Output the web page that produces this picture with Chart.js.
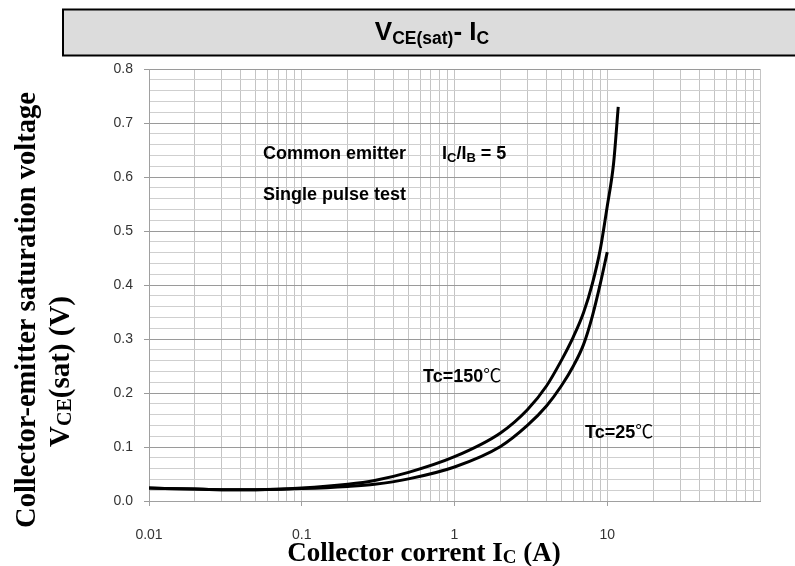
<!DOCTYPE html>
<html>
<head>
<meta charset="utf-8">
<script src="https://cdn.jsdelivr.net/npm/chart.js@4.4.0/dist/chart.umd.min.js"></script>
<style>
  html, body { margin: 0; padding: 0; background: #fff; }
  #wrap { position: relative; width: 795px; height: 566px; }
</style>
</head>
<body>
<div id="wrap"><canvas id="vceChart" width="795" height="566"></canvas></div>
<script>
// collector current (A) vs V_CE(sat) (V)
const currentTc150 = [0.01, 0.02, 0.03, 0.05, 0.1, 0.2, 0.3, 0.5, 1, 2, 3, 4, 5, 6, 7, 8, 9, 10, 11, 11.8];
const vceTc150     = [0.024, 0.022, 0.021, 0.021, 0.024, 0.031, 0.038, 0.053, 0.082, 0.126, 0.169, 0.213, 0.260, 0.304, 0.349, 0.403, 0.466, 0.546, 0.625, 0.730];
const currentTc25  = [0.01, 0.02, 0.03, 0.05, 0.1, 0.2, 0.3, 0.5, 1, 2, 3, 4, 5, 6, 7, 8, 9, 10];
const vceTc25      = [0.024, 0.022, 0.021, 0.021, 0.023, 0.027, 0.031, 0.041, 0.063, 0.101, 0.140, 0.176, 0.213, 0.250, 0.290, 0.343, 0.402, 0.461];

// axis ticks
const xTickValues = [0.01, 0.1, 1, 10];
const xTickLabels = ['0.01', '0.1', '1', '10'];
const yMin = 0, yMax = 0.8, yMinorStep = 0.02;

const SANS = '"Liberation Sans", Arial, sans-serif';
const SERIF = '"Liberation Serif", "Times New Roman", serif';
const CJK = '"Noto Sans CJK SC", sans-serif';

// every 1..9 x 10^n line of the log grid
const xGrid = [];
xTickValues.forEach(d => {
    for (let k = 1; k <= 9; k++) xGrid.push(Number((k * d).toPrecision(3)));
});
xGrid.push(100);

const toPoints = (xs, ys) => xs.map((x, i) => ({ x: x, y: ys[i] }));
const isMajorY = v => Math.abs(v * 10 - Math.round(v * 10)) < 1e-6;

// draw a row of text pieces (for subscripts), left or centred at x
function drawRuns(ctx, runs, x, y, align) {
    let total = 0;
    runs.forEach(r => { ctx.font = r.font; r.w = ctx.measureText(r.t).width; total += r.w; });
    let cx = align === 'center' ? x - total / 2 : x;
    ctx.textAlign = 'left';
    ctx.textBaseline = 'alphabetic';
    runs.forEach(r => {
        ctx.font = r.font;
        ctx.fillText(r.t, cx, y + (r.dy || 0));
        cx += r.w;
    });
}

const decor = {
    id: 'decor',
    beforeDraw(chart) {
        const ctx = chart.ctx;
        ctx.save();
        // title box
        ctx.fillStyle = '#dcdcdc';
        ctx.fillRect(63, 9.5, 740, 46);
        ctx.strokeStyle = '#000';
        ctx.lineWidth = 2;
        ctx.strokeRect(63, 9.5, 740, 46);
        ctx.restore();
    },
    afterDraw(chart) {
        const ctx = chart.ctx;
        ctx.save();
        ctx.fillStyle = '#000';

        const big = 'bold 26px ' + SANS, small = 'bold 17.5px ' + SANS;
        drawRuns(ctx, [
            { t: 'V', font: big },
            { t: 'CE(sat)', font: small, dy: 4.3 },
            { t: '- I', font: big },
            { t: 'C', font: small, dy: 4.3 }
        ], 432, 39.7, 'center');

        const note = 'bold 18px ' + SANS, noteSub = 'bold 13px ' + SANS;
        const deg = '18px ' + CJK;
        drawRuns(ctx, [{ t: 'Common emitter', font: note }], 263, 159, 'left');
        drawRuns(ctx, [
            { t: 'I', font: note }, { t: 'C', font: noteSub, dy: 3 },
            { t: '/I', font: note }, { t: 'B', font: noteSub, dy: 3 },
            { t: ' = 5', font: note }
        ], 442, 159, 'left');
        drawRuns(ctx, [{ t: 'Single pulse test', font: note }], 263, 200, 'left');
        drawRuns(ctx, [{ t: 'Tc=150', font: note }, { t: '℃', font: deg }], 423, 381.5, 'left');
        drawRuns(ctx, [{ t: 'Tc=25', font: note }, { t: '℃', font: deg }], 585, 437.5, 'left');

        // axis titles
        const axT = 'bold 27px ' + SERIF, axSub = 'bold 19px ' + SERIF;
        drawRuns(ctx, [
            { t: 'Collector corrent I', font: axT },
            { t: 'C', font: axSub, dy: 1.5 },
            { t: ' (A)', font: axT }
        ], 424, 561, 'center');

        ctx.save();
        ctx.translate(35, 310);
        ctx.rotate(-Math.PI / 2);
        drawRuns(ctx, [{ t: 'Collector-emitter saturation voltage', font: 'bold 28.5px ' + SERIF }], 0, 0, 'center');
        ctx.restore();
        ctx.save();
        ctx.translate(69, 371.5);
        ctx.rotate(-Math.PI / 2);
        drawRuns(ctx, [
            { t: 'V', font: 'bold 29px ' + SERIF },
            { t: 'CE', font: 'bold 20px ' + SERIF, dy: 1.5 },
            { t: '(sat) (V)', font: 'bold 29px ' + SERIF }
        ], 0, 0, 'center');
        ctx.restore();
        ctx.restore();
    }
};

const ctxV = document.getElementById('vceChart').getContext('2d');
new Chart(ctxV, {
    type: 'line',
    data: {
        datasets: [
            {
                label: 'Tc=150℃',
                data: toPoints(currentTc150, vceTc150),
                borderColor: '#000', borderWidth: 3,
                pointRadius: 0, fill: false,
                cubicInterpolationMode: 'monotone'
            },
            {
                label: 'Tc=25℃',
                data: toPoints(currentTc25, vceTc25),
                borderColor: '#000', borderWidth: 3,
                pointRadius: 0, fill: false,
                cubicInterpolationMode: 'monotone'
            }
        ]
    },
    options: {
        responsive: false,
        animation: false,
        layout: { padding: { left: 0, top: 69, right: 35, bottom: 0 } },
        plugins: { legend: { display: false }, tooltip: { enabled: false } },
        scales: {
            x: {
                type: 'logarithmic',
                min: 0.01, max: 100,
                afterBuildTicks: s => { s.ticks = xGrid.map(v => ({ value: v })); },
                afterFit: s => { s.height = 65; },
                grid: {
                    color: '#c4c4c4', lineWidth: 1, tickLength: 5,
                    tickColor: c => xTickValues.some(v => Math.abs(c.tick.value - v) / v < 1e-6) ? '#a0a0a0' : 'rgba(0,0,0,0)'
                },
                border: { color: '#a0a0a0' },
                ticks: {
                    autoSkip: false, maxRotation: 0, padding: 21,
                    color: '#333', font: { family: SANS, size: 14 },
                    callback: v => {
                        const i = xTickValues.findIndex(t => Math.abs(v - t) / t < 1e-6);
                        return i >= 0 ? xTickLabels[i] : '';
                    }
                }
            },
            y: {
                type: 'linear',
                min: yMin, max: yMax,
                afterFit: s => { s.width = 149; },
                grid: {
                    color: c => isMajorY(c.tick.value) ? '#9a9a9a' : '#cfcfcf',
                    lineWidth: 1, tickLength: 5,
                    tickColor: c => isMajorY(c.tick.value) ? '#9a9a9a' : 'rgba(0,0,0,0)'
                },
                border: { color: '#a0a0a0' },
                ticks: {
                    stepSize: yMinorStep, autoSkip: false, padding: 11,
                    color: '#333', font: { family: SANS, size: 14 },
                    callback: v => isMajorY(v) ? v.toFixed(1) : ''
                }
            }
        }
    },
    plugins: [decor]
});
</script>
</body>
</html>
